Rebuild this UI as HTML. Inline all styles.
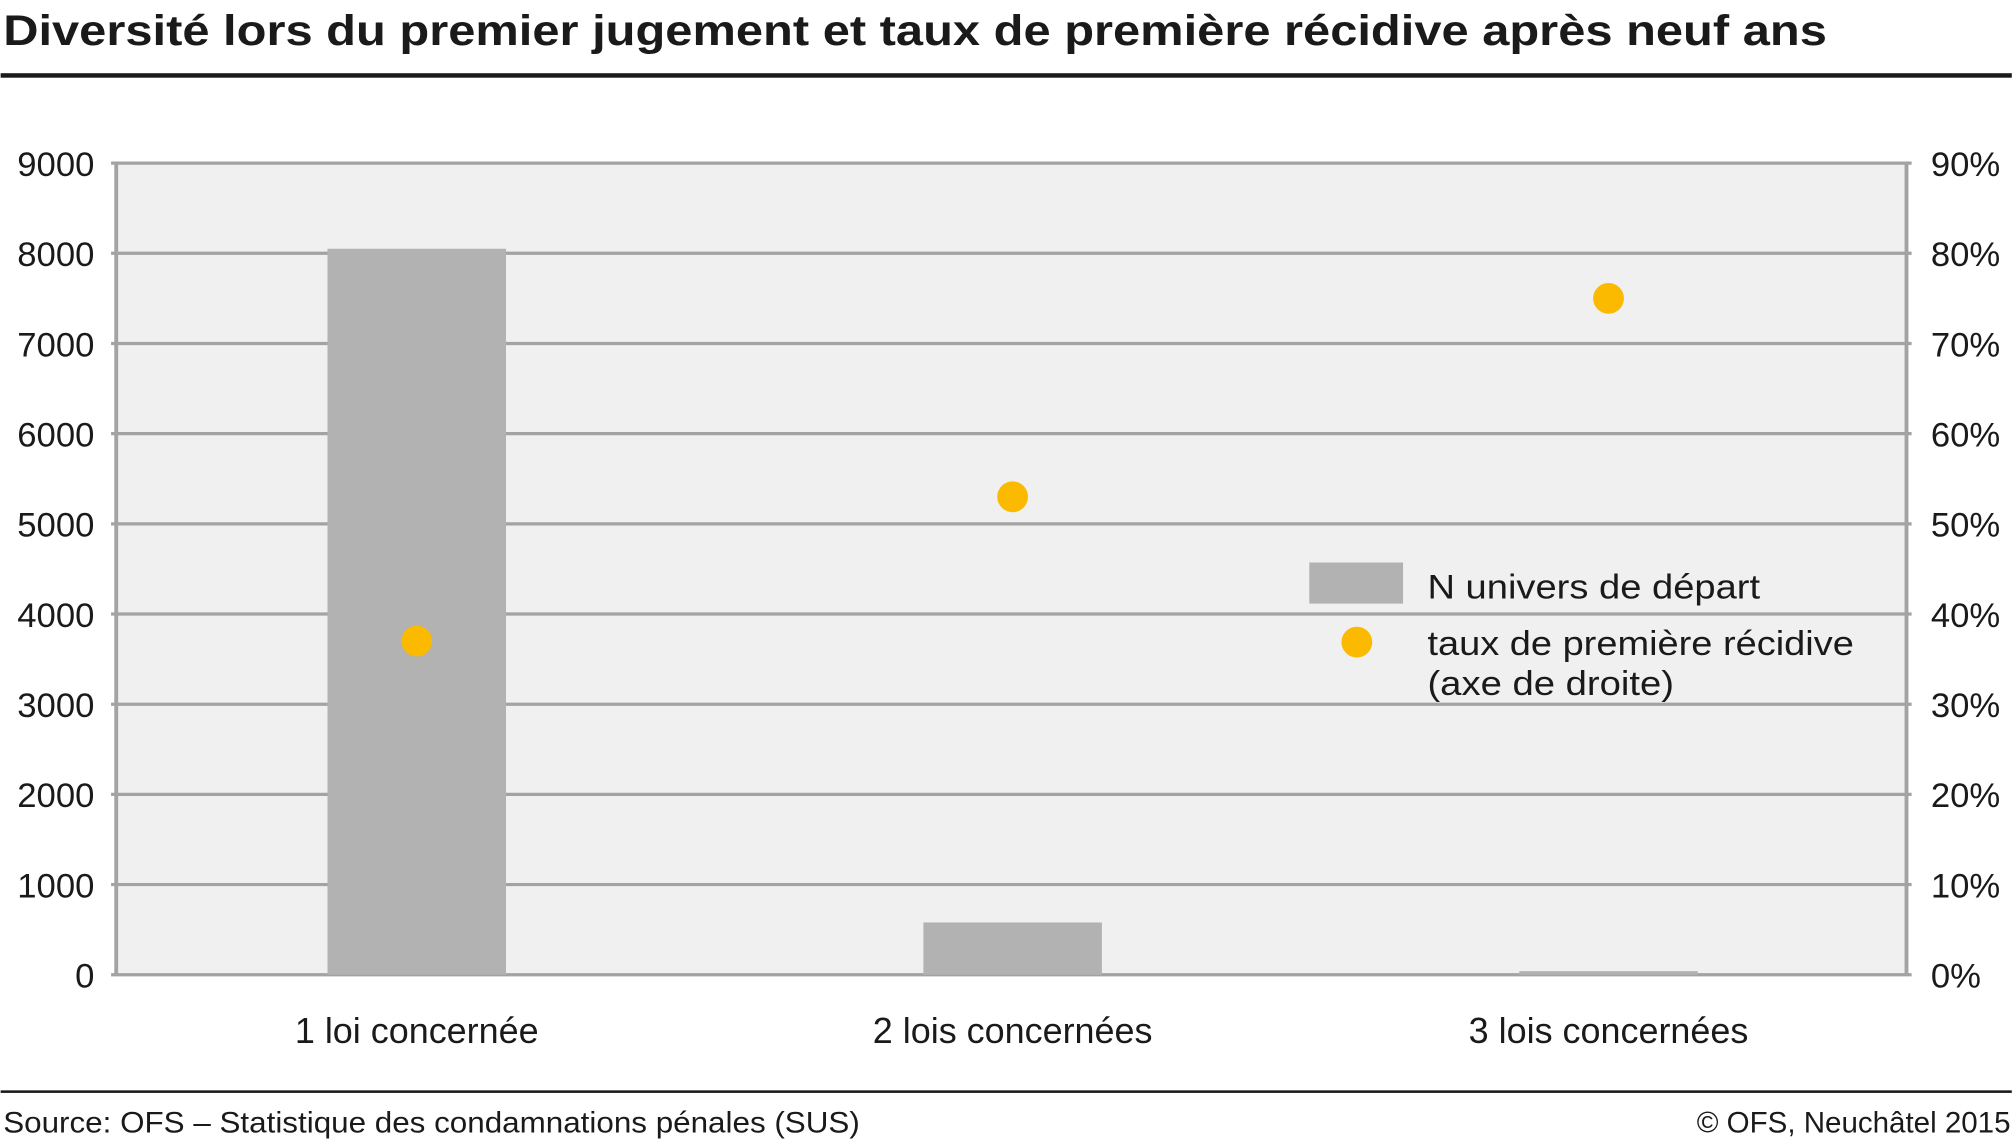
<!DOCTYPE html>
<html><head><meta charset="utf-8"><style>
html,body{margin:0;padding:0;background:#fff;}
svg{display:block;font-family:"Liberation Sans",sans-serif;}
</style></head><body>
<svg id="chart" width="2015" height="1143" viewBox="0 0 1568 890" xmlns="http://www.w3.org/2000/svg">
<text x="2" y="35" font-size="33" font-weight="bold" fill="#1a1a1a" textLength="1420" lengthAdjust="spacingAndGlyphs">Diversité lors du premier jugement et taux de première récidive après neuf ans</text>
<rect x="0" y="57" width="1566" height="3.5" fill="#1a1a1a"/>
<rect x="89" y="127" width="1395" height="632" fill="#f0f0f0"/>
<g id="grid"></g>
<g id="bars"></g>
<g id="dots"></g>
<g id="labels"></g>
<g>
<rect x="1019" y="438" width="73" height="32" fill="#b2b2b2"/>
<text x="1111" y="466" font-size="27" fill="#1a1a1a" textLength="259" lengthAdjust="spacingAndGlyphs">N univers de départ</text>
<circle cx="1056" cy="500" r="12" fill="#fbb900"/>
<text x="1111" y="510" font-size="27" fill="#1a1a1a" textLength="332" lengthAdjust="spacingAndGlyphs">taux de première récidive</text>
<text x="1111" y="541" font-size="27" fill="#1a1a1a" textLength="192" lengthAdjust="spacingAndGlyphs">(axe de droite)</text>
</g>
<rect x="0" y="849" width="1566" height="2" fill="#1a1a1a"/>
<text x="2" y="882" font-size="23" fill="#1a1a1a" textLength="667" lengthAdjust="spacingAndGlyphs">Source: OFS – Statistique des condamnations pénales (SUS)</text>
<text x="1565" y="882" font-size="23" fill="#1a1a1a" text-anchor="end">© OFS, Neuchâtel 2015</text>
</svg>
<script>
const categories = ["1 loi concernée", "2 lois concernées", "3 lois concernées"];
const counts = [8050, 580, 40];
const rates = [37, 53, 75];
const leftTicks = [0,1000,2000,3000,4000,5000,6000,7000,8000,9000];
const rightTicks = [0,10,20,30,40,50,60,70,80,90];
const NS = "http://www.w3.org/2000/svg";
const X0 = 92, X1 = 1484, Y0 = 759, Y1 = 127;
function yL(v){ return Y0 - (v/9000)*(Y0-Y1); }
function yR(v){ return Y0 - (v/90)*(Y0-Y1); }
function xC(i){ const w=(X1-X0)/categories.length; return X0 + w*(i+0.5); }
function mk(tag, attrs, parent){ const e=document.createElementNS(NS,tag); for(const k in attrs) e.setAttribute(k,attrs[k]); document.getElementById(parent).appendChild(e); return e; }
leftTicks.forEach((t,i)=>{
  const y=yL(t);
  const l=mk('line',{x1:86,x2:1488,y1:y,y2:y,stroke:'#a3a3a3','stroke-width':2.5},'grid');
  
  
  const tl=mk('text',{x:73,y:y+10,'font-size':27,'text-anchor':'end',fill:'#1a1a1a'},'labels');
  tl.textContent=t;
  
  
  const tr=mk('text',{x:1503,y:yR(rightTicks[i])+10,'font-size':27,fill:'#1a1a1a'},'labels');
  tr.textContent=rightTicks[i]+'%';
  
  
});
const la=mk('line',{x1:90,x2:90,y1:127,y2:760,stroke:'#a3a3a3','stroke-width':3},'grid');


const ra=mk('line',{x1:1484,x2:1484,y1:127,y2:760,stroke:'#a3a3a3','stroke-width':3},'grid');


categories.forEach((c,i)=>{
  const cx=xC(i), bw=139;
  const b=mk('rect',{x:cx-bw/2,y:yL(counts[i]),width:bw,height:Y0-yL(counts[i]),fill:'#b2b2b2'},'bars');
  
  
  const d=mk('circle',{cx:cx,cy:yR(rates[i]),r:12,fill:'#fbb900'},'dots');
  
  
  const t=mk('text',{x:cx,y:812,'font-size':28,'text-anchor':'middle',fill:'#1a1a1a'},'labels');
  t.textContent=c;
  
  
});
</script>
</body></html>
